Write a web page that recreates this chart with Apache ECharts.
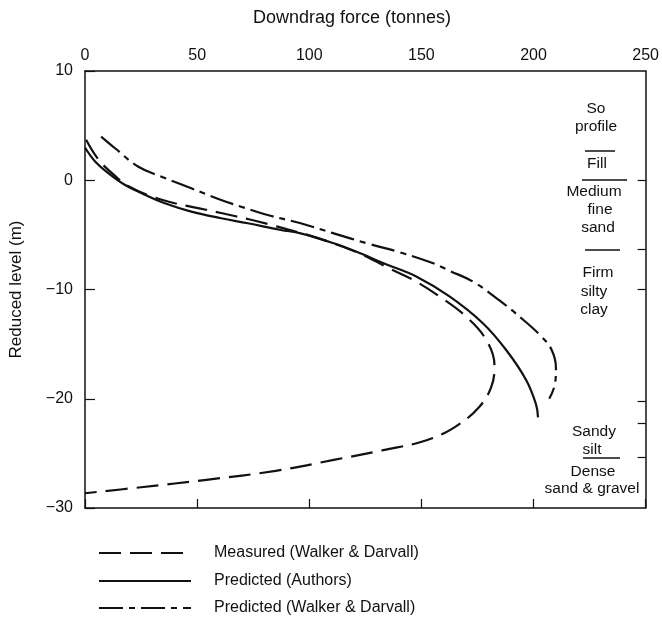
<!DOCTYPE html>
<html><head><meta charset="utf-8">
<script src="https://cdn.jsdelivr.net/npm/echarts@6/dist/echarts.min.js"></script>
<style>html,body{margin:0;padding:0;background:#fff}#c{width:662px;height:618px}</style>
</head><body><div id="c"></div>
<script>
// ---- data ----
const xTicks = [0, 50, 100, 150, 200, 250];
const yTicks = [10, 0, -10, -20, -30];
const seriesNames = ['Measured (Walker & Darvall)', 'Predicted (Authors)', 'Predicted (Walker & Darvall)'];
const measured = [[0.5,3.7],[6,1.9],[13.4,0.4],[19.4,-0.55],[28,-1.35],[40,-2.1],[50.4,-2.55],[60.7,-3.0],[72.6,-3.55],[81.4,-4.0],[90.3,-4.5],[100,-5.05],[111,-5.8],[123,-6.75],[136,-8.1],[146.4,-9.13],[158.2,-10.66],[170,-12.5],[178.9,-14.62],[182.6,-17.0],[181.2,-18.9],[176,-20.7],[165.6,-22.5],[152.3,-23.8],[133.1,-24.7],[110.9,-25.6],[85,-26.6],[55,-27.4],[25,-28.1],[0,-28.65]];
const authors = [[0,3.0],[4.6,1.7],[10.5,0.64],[17.9,-0.43],[25.3,-1.19],[35.6,-2.11],[47.4,-2.87],[60.7,-3.48],[72.6,-3.94],[87.3,-4.55],[96.2,-4.86],[110.9,-5.77],[122.8,-6.69],[133.1,-7.6],[147.9,-8.83],[162.7,-10.66],[177.4,-13.09],[187.8,-15.54],[196.7,-18.28],[201.1,-20.5],[202,-21.7]];
const walkerPred = [[7.2,4.0],[13.4,2.93],[23.8,1.24],[34.1,0.33],[47.4,-0.74],[60.7,-1.81],[69.6,-2.42],[81.4,-3.18],[96.2,-3.94],[110.9,-4.86],[125.7,-5.77],[140.5,-6.6],[155.3,-7.6],[162.7,-8.3],[173,-9.28],[184.8,-11.0],[195,-12.7],[203,-14.2],[208,-15.5],[210,-17.2],[209.5,-18.7],[207,-20.0]];
const soilTexts = ['So', 'profile', 'Fill', 'Medium', 'fine', 'sand', 'Firm', 'silty', 'clay', 'Sandy', 'silt', 'Dense', 'sand & gravel'];
const rightTicks = [0, -6.3, -10, -20.2, -22.2, -25.4];
const xTitle = 'Downdrag force (tonnes)';
const yTitle = 'Reduced level (m)';

// ---- layout ----
const FONT = 'Liberation Sans';
const INK = '#111';
const soilPos = [[596,109],[596,127],[597,164],[594,192],[600,210],[598,228],[598,273],[594,292],[594,310],[594,432],[592,450],[593,472],[592,489]];
const sepLines = [[585,615,151],[582,627,180],[585,620,250],[583,620,458]];
const legendTops = [545, 573, 600];

const chart = echarts.init(document.getElementById('c'), null, {renderer: 'canvas'});
const graphics = [];
graphics.push({type:'text', x: 352, y: 18, style:{text:xTitle, font:'18px ' + FONT, fill:INK, textAlign:'center', textVerticalAlign:'middle'}});
soilTexts.forEach((t,i)=>{
  graphics.push({type:'text', x: soilPos[i][0], y: soilPos[i][1], style:{text:t, font:'15.5px ' + FONT, fill:INK, textAlign:'center', textVerticalAlign:'middle'}});
});
sepLines.forEach(l=>{
  graphics.push({type:'line', shape:{x1:l[0], y1:l[2], x2:l[1], y2:l[2]}, style:{stroke:INK, lineWidth:1.5}});
});

const minusFmt = v => v < 0 ? '\u2212' + Math.abs(v) : String(v);
const styles = [
  {type:[22,9], width:2.2},
  {type:'solid', width:2.2},
  {type:[24,6,6,6], width:2.2}
];
const datas = [measured, authors, walkerPred];
const axisLine = {show:true, onZero:false, lineStyle:{color:INK, width:1.5}};

chart.setOption({
  animation: false,
  backgroundColor: '#fff',
  textStyle: {fontFamily: FONT, color: INK},
  grid: {left: 83, top: 71, width: 564, height: 437, containLabel: false},
  xAxis: [
    {type:'value', position:'top', min:0, max:250, interval:50,
     axisLine: axisLine,
     axisTick:{show:false},
     axisLabel:{fontSize:16, color:INK, margin:7, formatter: v => xTicks.includes(v) ? String(v) : ''},
     splitLine:{show:false}},
    {type:'value', position:'bottom', min:0, max:250, interval:50,
     axisLine: axisLine,
     axisTick:{show:true, inside:true, length:9, lineStyle:{color:INK, width:1.2}},
     axisLabel:{show:false}, splitLine:{show:false}}
  ],
  yAxis: [
    {type:'value', position:'left', min:-30, max:10, interval:10,
     name: yTitle, nameLocation:'middle', nameGap:60, nameRotate:90,
     nameTextStyle:{fontSize:17, color:INK, fontFamily:FONT},
     axisLine: axisLine,
     axisTick:{show:true, inside:true, length:10, lineStyle:{color:INK, width:1.2}},
     axisLabel:{fontSize:16, color:INK, margin:12, formatter: v => yTicks.includes(v) ? minusFmt(v) : ''},
     splitLine:{show:false}},
    {type:'value', position:'right', min:-30, max:10, interval:10,
     axisLine: axisLine,
     axisTick:{show:true, inside:true, length:8, customValues: rightTicks, lineStyle:{color:INK, width:1.2}},
     axisLabel:{show:false}, splitLine:{show:false}}
  ],
  legend: seriesNames.map((n,i)=>({
    orient:'horizontal', left: 98, top: legendTops[i], itemWidth: 92, itemHeight: 14, padding: 0,
    data: [n],
    itemStyle: {color:'rgba(0,0,0,0)', borderColor:'rgba(0,0,0,0)', borderWidth:0},
    textStyle: {fontSize:16, color:INK, fontFamily:FONT, padding:[0,0,0,18]},
    selectedMode: false
  })),
  series: seriesNames.map((n,i)=>({
    name: n, type:'line', xAxisIndex:0, yAxisIndex:0,
    data: datas[i], showSymbol:false, symbol:'none', smooth: 0.4,
    lineStyle:{color:INK, width:styles[i].width, type:styles[i].type},
    itemStyle:{color:INK}
  })),
  graphic: graphics
});
</script>
</body></html>
